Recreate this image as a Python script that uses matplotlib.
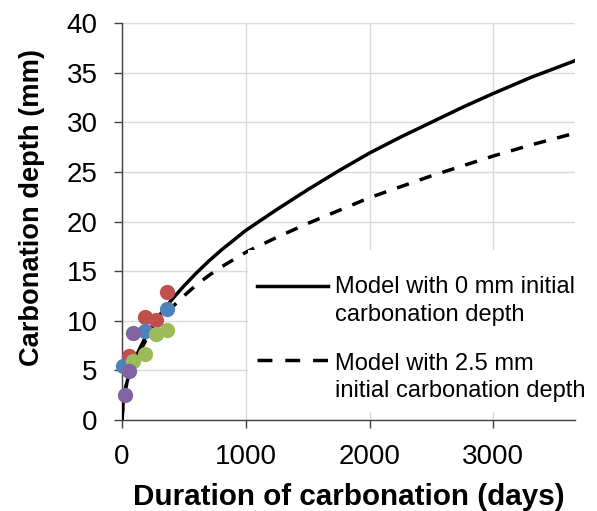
import matplotlib
matplotlib.use('Agg')
import matplotlib.pyplot as plt
from matplotlib.lines import Line2D

plt.rcParams["font.family"] = ["Liberation Sans", "DejaVu Sans"]

# model curves
days_model = [0, 10, 25, 50, 100, 200, 300, 400, 500, 600, 700, 800, 1000, 1250,
              1500, 1750, 2000, 2250, 2500, 2750, 3000, 3300, 3660]
depth_0mm = [0, 1.9, 3.0, 4.3, 6.1, 8.6, 10.5, 12.1, 13.5, 14.8, 16.0, 17.1,
             19.1, 21.2, 23.2, 25.1, 26.9, 28.5, 30.0, 31.5, 32.9, 34.5, 36.2]
depth_25mm = [0, 1.9, 3.0, 4.2, 5.9, 8.2, 9.9, 11.3, 12.5, 13.6, 14.55, 15.4,
              16.9, 18.4, 19.8, 21.1, 22.4, 23.5, 24.6, 25.6, 26.6, 27.7, 28.9]

# measured points, one colour per series
red_days = [56, 182, 273, 365]
red_depth = [6.4, 10.4, 10.1, 12.9]
blue_days = [10, 182, 365]
blue_depth = [5.4, 9.0, 11.2]
green_days = [91, 182, 273, 365]
green_depth = [5.9, 6.7, 8.65, 9.1]
purple_days = [28, 56, 91]
purple_depth = [2.5, 4.9, 8.75]

fig = plt.figure(figsize=(5.97, 5.11), dpi=100)
W, H = 597, 511
ax = fig.add_axes([122 / W, 1 - 420 / H, (575 - 122) / W, (420 - 23) / H])

grid_c = '#d9d9d9'
ax.grid(True, color=grid_c, linewidth=1.0, zorder=0)
ax.set_axisbelow(True)

lw = 2.5
dash = (0, (3.6, 3.3))
ax.plot(days_model, depth_0mm, color='black', linewidth=lw, zorder=3)
ax.plot(days_model, depth_25mm, color='black', linewidth=lw, linestyle=dash,
        zorder=3)

pts = [(red_days, red_depth, '#C0504D'),
       (blue_days, blue_depth, '#4F81BD'),
       (green_days, green_depth, '#9BBB59'),
       (purple_days, purple_depth, '#8064A2')]
for xs, ys, c in pts:
    ax.plot(xs, ys, 'o', color=c, markersize=11, markeredgewidth=0, zorder=4,
            clip_on=False)

ax.set_xlim(0, 3660)
ax.set_ylim(0, 40)
ax.set_xticks([0, 1000, 2000, 3000])
ax.set_yticks(range(0, 41, 5))

for s in ['top', 'right']:
    ax.spines[s].set_visible(False)
for s in ['left', 'bottom']:
    ax.spines[s].set_color('#404040')
    ax.spines[s].set_linewidth(1.0)
ax.tick_params(axis='both', labelsize=20, length=5.5, color='#404040', width=1.0,
               pad=12)

ax.set_xlabel("Duration of carbonation (days)", fontsize=21.3, fontweight='bold')
ax.set_ylabel("Carbonation depth (mm)", fontsize=19.6, fontweight='bold')
ax.xaxis.set_label_coords(0.5, -0.158)
ax.yaxis.set_label_coords(-0.170, 0.535)

# legend drawn by hand so the handle sits on the first text line
tr = fig.transFigure
bg = plt.Rectangle((248 / W, 1 - 412 / H), (W - 248) / W, 162 / H, transform=tr,
                   facecolor='white', edgecolor='none', zorder=5)
fig.patches.append(bg)
fig.lines.append(Line2D([257 / W, 328 / W], [1 - 286 / H] * 2, transform=tr,
                        color='black', linewidth=lw, zorder=6))
fig.lines.append(Line2D([257 / W, 328 / W], [1 - 360 / H] * 2, transform=tr,
                        color='black', linewidth=lw, linestyle=(0, (4.3, 3.7)),
                        zorder=6))
legend_lines = [("Model with 0 mm initial", 293),
                ("carbonation depth", 321),
                ("Model with 2.5 mm", 370),
                ("initial carbonation depth", 397)]
for txt, base in legend_lines:
    fig.text(335 / W, 1 - base / H, txt, fontsize=17, va='baseline', ha='left',
             zorder=7)

fig.savefig("out.png", dpi=100)
